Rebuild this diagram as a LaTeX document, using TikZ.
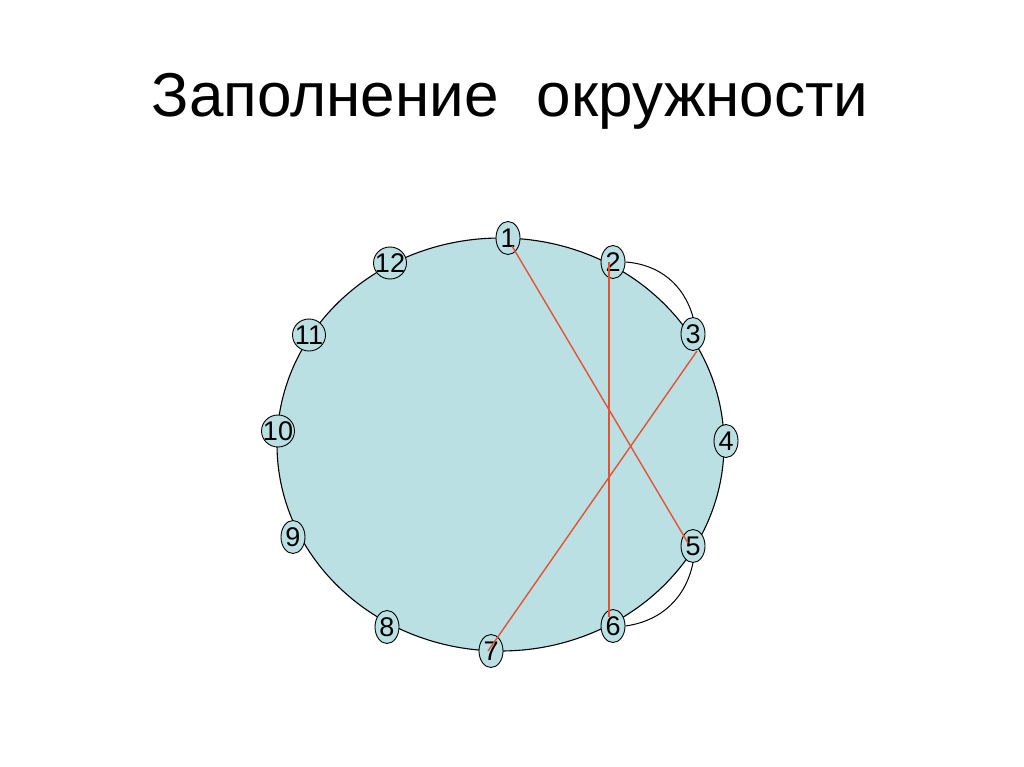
\documentclass[tikz,border=0pt]{standalone}
\usepackage{fontspec}
\setmainfont{Liberation Sans}
\usetikzlibrary{shapes.geometric}
\definecolor{disc}{RGB}{187,224,227}
\definecolor{chord}{RGB}{229,82,50}
\begin{document}
\begin{tikzpicture}[x=1pt,y=-1pt,
  pt/.style={ellipse,draw=black,fill=disc,line width=0.9pt,inner sep=0pt,
    minimum width=24pt,minimum height=33pt,font=\fontsize{27}{27}\selectfont},
  ptw/.style={pt,inner xsep=-6pt,minimum width=33pt,minimum height=32pt},
  chordline/.style={draw=chord,line width=1.4pt},
  arcline/.style={draw=black,line width=1pt}]
\useasboundingbox[fill=white] (0,0) rectangle (1024,767);
\node[anchor=base,font=\fontsize{62}{64}\selectfont] (title) at (510,117) {Заполнение\hspace{0.62em}окружности};
\path[draw=black,fill=disc,line width=1.1pt] (500.5,444.5) ellipse [x radius=223.5,y radius=206.5];
\node[pt]  (n1)  at (508,238) {1};
\node[pt]  (n2)  at (613,262) {2};
\node[pt]  (n3)  at (693,334) {3};
\node[pt]  (n4)  at (726,441) {4};
\node[pt]  (n5)  at (693,546) {5};
\node[pt]  (n6)  at (613,626) {6};
\node[pt]  (n7)  at (491,651) {7};
\node[pt]  (n8)  at (387,627) {8};
\node[pt]  (n9)  at (293,537) {9};
\node[ptw] (n10) at (278,431) {10};
\node[ptw] (n11) at (309,335) {11};
\node[ptw] (n12) at (390,263) {12};
\draw[chordline] ([xshift=4pt,yshift=-8pt]n1.center) -- ([xshift=-5pt,yshift=3pt]n5.center);
\draw[chordline] ([xshift=-4pt]n2.center) -- ([xshift=-4pt,yshift=9pt]n6.center);
\draw[chordline] ([xshift=4pt]n3.south) -- ([xshift=-3pt]n7.center);
\draw[arcline] (n2.east) to[bend left=35] (n3.north);
\draw[arcline] (n5.south) to[bend left=35] (n6.east);
\end{tikzpicture}
\end{document}
